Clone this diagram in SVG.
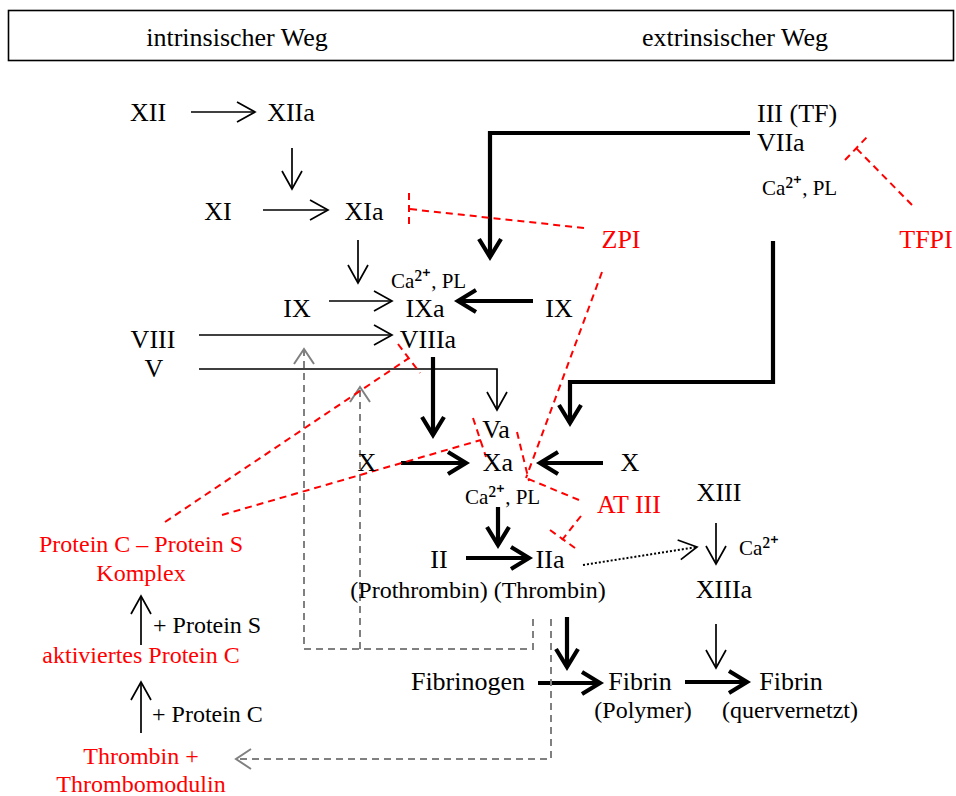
<svg xmlns="http://www.w3.org/2000/svg" width="956" height="796" viewBox="0 0 956 796">
  <style>
    text { font-family: "Liberation Serif", "Times New Roman", serif; font-size: 26px; fill: #000; }
    .c { text-anchor: middle; }
    .sm { font-size: 21px; }
    .sup { font-size: 26px; }
    .md { font-size: 24px; }
    .hd { font-size: 26px; }
    .red { fill: #ff0000; }
    .thin { fill: none; stroke: #000; stroke-width: 1.7; }
    .bold { fill: none; stroke: #000; stroke-width: 4.2; }
    .dot { fill: none; stroke: #000; stroke-width: 2; stroke-dasharray: 2 2; }
    .gray { fill: none; stroke: #808080; stroke-width: 2; stroke-dasharray: 7 5; }
    .inh { fill: none; stroke: #ff0000; stroke-width: 2; stroke-dasharray: 7 5; }
  </style>
  <defs>
    <marker id="ah-thin" markerUnits="userSpaceOnUse" viewBox="-22 -14 26 28" refX="0" refY="0" markerWidth="26" markerHeight="28" orient="auto">
      <path d="M-18,-10 L0,0 L-18,10" fill="none" stroke="#000" stroke-width="1.7"/>
    </marker>
    <marker id="ah-bold" markerUnits="userSpaceOnUse" viewBox="-24 -16 30 32" refX="0" refY="0" markerWidth="30" markerHeight="32" orient="auto">
      <path d="M-18,-11 L0,0 L-18,11" fill="none" stroke="#000" stroke-width="4.2"/>
    </marker>
    <marker id="ah-gray" markerUnits="userSpaceOnUse" viewBox="-20 -14 24 28" refX="0" refY="0" markerWidth="24" markerHeight="28" orient="auto">
      <path d="M-15,-10 L0,0 L-15,10" fill="none" stroke="#808080" stroke-width="2"/>
    </marker>
  </defs>

  <rect width="956" height="796" fill="#fff"/>

  <!-- header -->
  <g id="header">
    <rect x="8.5" y="10.5" width="945" height="50" fill="#fff" stroke="#000" stroke-width="1.6"/>
    <text class="c hd" x="237" y="46">intrinsischer Weg</text>
    <text class="c hd" x="735" y="46">extrinsischer Weg</text>
  </g>

  <!-- connectors -->
  <g id="connectors">
    <!-- intrinsic cascade -->
    <line class="thin" x1="191" y1="112" x2="255" y2="112" marker-end="url(#ah-thin)"/>
    <line class="thin" x1="292" y1="148" x2="292" y2="189" marker-end="url(#ah-thin)"/>
    <line class="thin" x1="263" y1="210" x2="328" y2="210" marker-end="url(#ah-thin)"/>
    <line class="thin" x1="358" y1="240" x2="358" y2="283" marker-end="url(#ah-thin)"/>
    <line class="thin" x1="329" y1="301" x2="392" y2="301" marker-end="url(#ah-thin)"/>
    <line class="thin" x1="199" y1="335" x2="392" y2="335" marker-end="url(#ah-thin)"/>
    <polyline class="thin" points="199,369 497,369 497,410" marker-end="url(#ah-thin)"/>

    <!-- extrinsic cascade -->
    <polyline class="bold" points="750,133 490,133 490,257" marker-end="url(#ah-bold)"/>
    <polyline class="bold" points="773,241 773,382 570,382 570,423" marker-end="url(#ah-bold)"/>
    <line class="bold" x1="533" y1="301" x2="458" y2="301" marker-end="url(#ah-bold)"/>

    <!-- common pathway -->
    <line class="bold" x1="433" y1="357" x2="433" y2="435" marker-end="url(#ah-bold)"/>
    <line class="bold" x1="401" y1="463" x2="466" y2="463" marker-end="url(#ah-bold)"/>
    <line class="bold" x1="603" y1="463" x2="540" y2="463" marker-end="url(#ah-bold)"/>
    <line class="bold" x1="498" y1="507" x2="498" y2="545" marker-end="url(#ah-bold)"/>
    <line class="bold" x1="466" y1="558" x2="529" y2="558" marker-end="url(#ah-bold)"/>
    <line class="dot" x1="583" y1="565" x2="697" y2="547" marker-end="url(#ah-thin)"/>
    <line class="thin" x1="716" y1="523" x2="716" y2="564" marker-end="url(#ah-thin)"/>
    <line class="thin" x1="716" y1="624" x2="716" y2="668" marker-end="url(#ah-thin)"/>
    <line class="bold" x1="567" y1="617" x2="567" y2="667" marker-end="url(#ah-bold)"/>
    <line class="bold" x1="538" y1="683" x2="600" y2="683" marker-end="url(#ah-bold)"/>
    <line class="bold" x1="685" y1="682" x2="747" y2="682" marker-end="url(#ah-bold)"/>

    <!-- protein C pathway -->
    <line class="thin" x1="141" y1="645" x2="141" y2="596" marker-end="url(#ah-thin)"/>
    <line class="thin" x1="141" y1="733" x2="141" y2="682" marker-end="url(#ah-thin)"/>

    <!-- thrombin feedback -->
    <polyline class="gray" points="533,619 533,649 304,649 304,349" marker-end="url(#ah-gray)"/>
    <line class="gray" x1="360" y1="649" x2="360" y2="387" marker-end="url(#ah-gray)"/>
    <polyline class="gray" points="551,619 551,759 236,759" marker-end="url(#ah-gray)"/>

    <!-- inhibitions -->
    <line class="inh" x1="584" y1="228" x2="409" y2="209"/>
    <line class="inh" x1="409" y1="193" x2="409" y2="228"/>
    <line class="inh" x1="912" y1="205" x2="856" y2="148"/>
    <line class="inh" x1="845" y1="160" x2="867" y2="137"/>
    <line class="inh" x1="165" y1="522" x2="409" y2="358"/>
    <line class="inh" x1="398" y1="344" x2="420" y2="373"/>
    <line class="inh" x1="222" y1="515" x2="481" y2="440"/>
    <line class="inh" x1="473" y1="418" x2="486" y2="457"/>
    <line class="inh" x1="602" y1="272" x2="526" y2="478"/>
    <line class="inh" x1="517" y1="432" x2="529" y2="481"/>
    <line class="inh" x1="579" y1="500" x2="526" y2="478"/>
    <line class="inh" x1="581" y1="516" x2="562" y2="540"/>
    <line class="inh" x1="550" y1="530" x2="575" y2="548"/>
  </g>

  <!-- factors -->
  <g id="n-XII"><text class="c" x="148" y="121">XII</text></g>
  <g id="n-XIIa"><text class="c" x="291" y="121">XIIa</text></g>
  <g id="n-XI"><text class="c" x="218" y="220">XI</text></g>
  <g id="n-XIa"><text class="c" x="364" y="220">XIa</text></g>
  <g id="n-TF-VIIa">
    <text x="757" y="122">III (TF)</text>
    <text x="757" y="151">VIIa</text>
    <text class="sm" x="762" y="195">Ca<tspan class="sup">²⁺</tspan>, PL</text>
  </g>
  <g id="n-TFPI"><text class="c red" x="926" y="248">TFPI</text></g>
  <g id="n-ZPI"><text class="c red" x="621" y="248">ZPI</text></g>
  <g id="n-IXa">
    <text class="sm" x="391" y="288">Ca<tspan class="sup">²⁺</tspan>, PL</text>
    <text class="c" x="425" y="317">IXa</text>
  </g>
  <g id="n-IX-left"><text class="c" x="297" y="317">IX</text></g>
  <g id="n-IX-right"><text class="c" x="559" y="317">IX</text></g>
  <g id="n-VIII"><text class="c" x="153" y="348">VIII</text></g>
  <g id="n-VIIIa"><text class="c" x="428" y="348">VIIIa</text></g>
  <g id="n-V"><text class="c" x="154" y="377">V</text></g>
  <g id="n-Va"><text class="c" x="496" y="438">Va</text></g>
  <g id="n-X-left"><text class="c" x="367" y="471">X</text></g>
  <g id="n-Xa">
    <text class="c" x="498" y="471">Xa</text>
    <text class="sm" x="465" y="504">Ca<tspan class="sup">²⁺</tspan>, PL</text>
  </g>
  <g id="n-X-right"><text class="c" x="630" y="471">X</text></g>
  <g id="n-ATIII"><text class="c red" x="629" y="513">AT III</text></g>
  <g id="n-XIII"><text class="c" x="719" y="501">XIII</text><text class="sm" x="739" y="555">Ca<tspan class="sup">²⁺</tspan></text></g>
  <g id="n-II"><text class="c" x="439" y="568">II</text></g>
  <g id="n-IIa"><text class="c" x="550" y="568">IIa</text></g>
  <g id="n-names"><text class="c md" x="478" y="598">(Prothrombin) (Thrombin)</text></g>
  <g id="n-XIIIa"><text class="c" x="724" y="598">XIIIa</text></g>
  <g id="n-Fibrinogen"><text class="c" x="468" y="690">Fibrinogen</text></g>
  <g id="n-Fibrin">
    <text class="c" x="640" y="690">Fibrin</text>
    <text class="c md" x="643" y="718">(Polymer)</text>
  </g>
  <g id="n-Fibrin-x">
    <text class="c" x="791" y="690">Fibrin</text>
    <text class="c md" x="790" y="718">(quervernetzt)</text>
  </g>

  <!-- protein C system -->
  <g id="n-PCPS">
    <text class="c md red" x="141" y="552">Protein C – Protein S</text>
    <text class="c md red" x="141" y="581">Komplex</text>
  </g>
  <g id="n-plusS"><text class="md" x="153" y="633">+ Protein S</text></g>
  <g id="n-APC"><text class="c md red" x="141" y="663">aktiviertes Protein C</text></g>
  <g id="n-plusC"><text class="md" x="152" y="722">+ Protein C</text></g>
  <g id="n-TM">
    <text class="c md red" x="141" y="764">Thrombin +</text>
    <text class="c md red" x="141" y="792">Thrombomodulin</text>
  </g>
</svg>
